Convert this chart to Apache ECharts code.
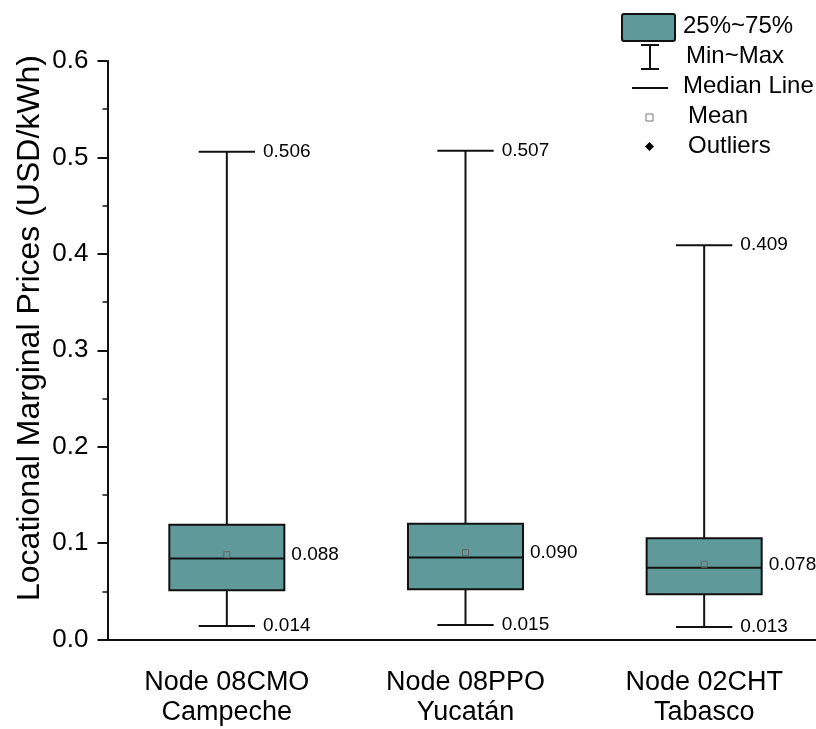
<!DOCTYPE html>
<html>
<head>
<meta charset="utf-8">
<script src="https://cdn.jsdelivr.net/npm/echarts@6/dist/echarts.min.js"></script>
<style>
html,body{margin:0;padding:0;background:#fff;overflow:hidden;}
#chart{width:816px;height:729px;}
</style>
</head>
<body>
<div id="chart"></div>
<script>
const categories = ['Node 08CMO\nCampeche', 'Node 08PPO\nYucatán', 'Node 02CHT\nTabasco'];
const minVals = [0.014, 0.015, 0.013];
const q1Vals = [0.051, 0.052, 0.047];
const medianVals = [0.084, 0.085, 0.0745];
const q3Vals = [0.119, 0.120, 0.105];
const maxVals = [0.506, 0.507, 0.409];
const meanVals = [0.088, 0.090, 0.078];
const yTicks = [0, 0.1, 0.2, 0.3, 0.4, 0.5, 0.6];

const FONT = 'Arial, "Liberation Sans", sans-serif';
const BOX_COLOR = '#5f9999';
const LINE = '#111';

const data = categories.map((c, i) => [i, minVals[i], q1Vals[i], medianVals[i], q3Vals[i], maxVals[i], meanVals[i]]);

function renderItem(params, api) {
  const i = api.value(0);
  const cx = api.coord([i, 0])[0];
  const band = api.size([1, 0])[0];
  const hw = band * 0.241;
  const cw = band * 0.118;
  const y = v => api.coord([i, v])[1];
  const vMin = api.value(1), vQ1 = api.value(2), vMed = api.value(3), vQ3 = api.value(4), vMax = api.value(5), vMean = api.value(6);
  const lineStyle = {stroke: LINE, lineWidth: 2};
  const txt = (t, x, yy) => ({type: 'text', style: {text: t, x: x, y: yy, fill: '#000', fontSize: 19, fontFamily: FONT, align: 'left', verticalAlign: 'middle'}});
  return {
    type: 'group',
    children: [
      {type: 'line', shape: {x1: cx, y1: y(vMin), x2: cx, y2: y(vMax)}, style: lineStyle},
      {type: 'line', shape: {x1: cx - cw, y1: y(vMin), x2: cx + cw, y2: y(vMin)}, style: lineStyle},
      {type: 'line', shape: {x1: cx - cw, y1: y(vMax), x2: cx + cw, y2: y(vMax)}, style: lineStyle},
      {type: 'rect', shape: {x: cx - hw, y: y(vQ3), width: 2 * hw, height: y(vQ1) - y(vQ3)}, style: {fill: BOX_COLOR, stroke: LINE, lineWidth: 2}},
      {type: 'line', shape: {x1: cx - hw, y1: y(vMed), x2: cx + hw, y2: y(vMed)}, style: lineStyle},
      {type: 'rect', shape: {x: cx - 3, y: y(vMean) - 3, width: 6, height: 6}, style: {fill: 'none', stroke: '#666', lineWidth: 1}},
      txt(vMax.toFixed(3), cx + cw + 8, y(vMax)),
      txt(vMin.toFixed(3), cx + cw + 8, y(vMin)),
      txt(vMean.toFixed(3), cx + hw + 7, y(vMean))
    ]
  };
}

const chart = echarts.init(document.getElementById('chart'));
const legendText = (t, x, yy) => ({type: 'text', left: x, top: yy - 13, style: {text: t, fill: '#000', fontSize: 24, fontFamily: FONT}});
chart.setOption({
  animation: false,
  backgroundColor: '#fff',
  grid: {left: 107.5, width: 716, top: 61, bottom: 89.5, containLabel: false, outerBoundsMode: 'none'},
  xAxis: {
    type: 'category',
    data: categories,
    axisLine: {lineStyle: {color: LINE, width: 2}},
    axisTick: {alignWithLabel: true, length: 10, lineStyle: {color: LINE, width: 2}},
    axisLabel: {color: '#000', fontSize: 27, lineHeight: 30, margin: 28, fontFamily: FONT}
  },
  yAxis: {
    type: 'value',
    min: 0, max: 0.6, interval: 0.1,
    axisLine: {show: true, lineStyle: {color: LINE, width: 2}},
    axisTick: {show: true, length: 10, lineStyle: {color: LINE, width: 2}},
    minorTick: {show: true, splitNumber: 2, length: 5, lineStyle: {color: LINE, width: 1.5}},
    splitLine: {show: false},
    axisLabel: {color: '#000', fontSize: 26, margin: 19, fontFamily: FONT,
      formatter: v => { const t = yTicks.find(k => Math.abs(k - v) < 1e-9); return (t !== undefined ? t : v).toFixed(1); }}
  },
  series: [{
    type: 'custom',
    renderItem: renderItem,
    encode: {x: 0, y: [1, 2, 3, 4, 5, 6]},
    data: data,
    clip: false
  }],
  graphic: [
    {type: 'text', x: 30, y: 328, rotation: Math.PI / 2, style: {text: 'Locational Marginal Prices (USD/kWh)', fill: '#000', fontSize: 32, fontFamily: FONT, align: 'center', verticalAlign: 'middle'}},
    {type: 'rect', left: 621, top: 13, shape: {width: 53, height: 27, r: 2}, style: {fill: BOX_COLOR, stroke: LINE, lineWidth: 2}},
    {type: 'line', shape: {x1: 641, y1: 45, x2: 659, y2: 45}, style: {stroke: LINE, lineWidth: 2}},
    {type: 'line', shape: {x1: 650, y1: 45, x2: 650, y2: 69}, style: {stroke: LINE, lineWidth: 2}},
    {type: 'line', shape: {x1: 641, y1: 69, x2: 659, y2: 69}, style: {stroke: LINE, lineWidth: 2}},
    {type: 'line', shape: {x1: 632, y1: 88, x2: 668, y2: 88}, style: {stroke: LINE, lineWidth: 2}},
    {type: 'rect', shape: {x: 646, y: 114, width: 7, height: 7}, style: {fill: 'none', stroke: '#777', lineWidth: 1}},
    {type: 'polygon', shape: {points: [[649.5, 142], [654, 146.5], [649.5, 151], [645, 146.5]]}, style: {fill: '#000'}},
    legendText('25%~75%', 683, 27),
    legendText('Min~Max', 686, 57),
    legendText('Median Line', 683, 87),
    legendText('Mean', 688, 117),
    legendText('Outliers', 688, 147)
  ]
});
</script>
</body>
</html>
